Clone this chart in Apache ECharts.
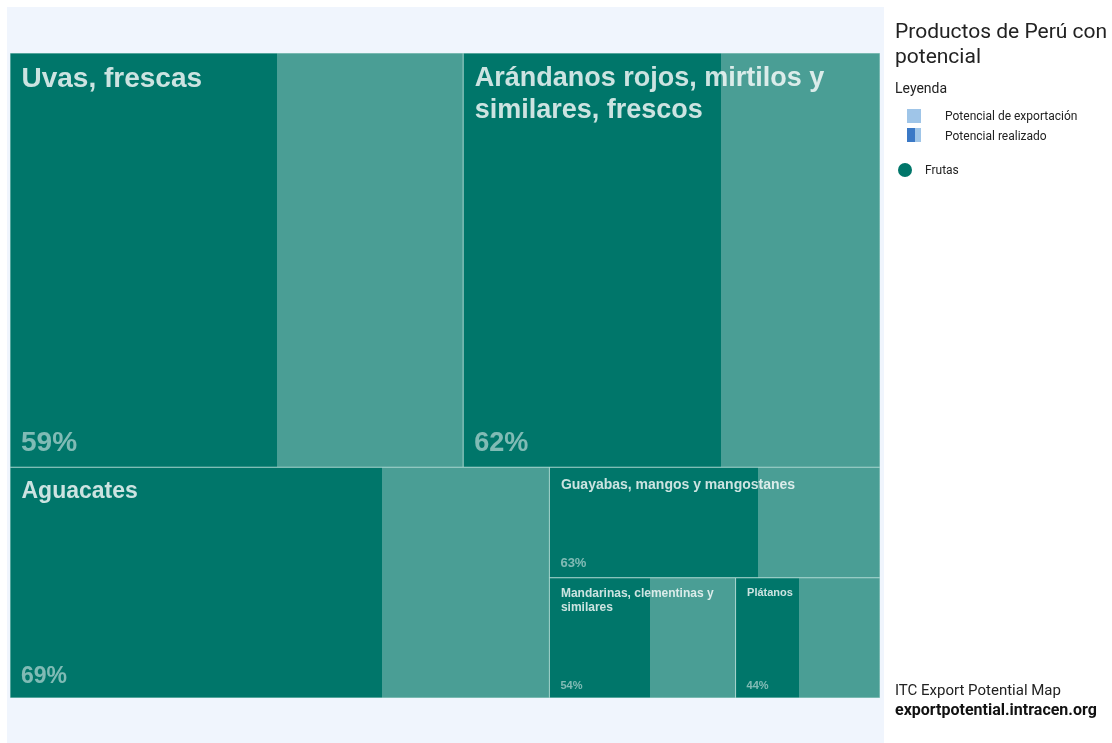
<!DOCTYPE html>
<html>
<head>
<meta charset="utf-8">
<title>Productos de Perú con potencial</title>
<script src="https://cdn.jsdelivr.net/npm/echarts@6/dist/echarts.min.js"></script>
<style>
  html, body { margin: 0; padding: 0; background: #fff; }
  #chart { width: 1112px; height: 743px; }
</style>
</head>
<body>
<div id="chart"></div>
<script>
// products (all in "Frutas"), export potential (relative size) and realized share in %
var products = [
  'Uvas, frescas',
  'Arándanos rojos, mirtilos y similares, frescos',
  'Aguacates',
  'Guayabas, mangos y mangostanes',
  'Mandarinas, clementinas y similares',
  'Plátanos'
]
var potential = [187, 172, 124, 36.4, 22.3, 17.3]
var realized = [59, 62, 69, 63, 54, 44]

// how the tiles nest (indexes into products)
var topRow = [0, 1]
var bigBottom = [2]
var midBottom = [3]
var smallPair = [4, 5]

var DARK = '#00766a'
var LIGHT = '#4a9e95'
var LINE = '#a9d5ce'

function sizeFor(v) {
  if (v > 180) return { name: 28, pct: 28, pad: [9, 11, 9, 11] }
  if (v > 150) return { name: 27, pct: 27, pad: [9, 11, 9, 11] }
  if (v > 100) return { name: 23, pct: 23, pad: [10, 11, 9, 11] }
  if (v > 30) return { name: 14, pct: 13, pad: [9, 11, 7, 11] }
  if (v > 20) return { name: 12, pct: 11, pad: [8, 2, 6, 11] }
  return { name: 11, pct: 11, pad: [8, 2, 6, 11] }
}

// long names break before "similares", like the original labels
function nameLabel(p) {
  return p.name.replace(' y similares', ' y\nsimilares')
}

// mode 'tile' draws the split tile with the product name, mode 'pct' only puts the % on top
function leaf(i, mode) {
  var s = sizeFor(potential[i])
  var r = realized[i] / 100
  var item = { name: products[i], value: potential[i] }
  if (mode === 'tile') {
    item.itemStyle = {
      borderWidth: 0.5,
      borderColor: LINE,
      color: {
        type: 'linear', x: 0, y: 0, x2: 1, y2: 0,
        colorStops: [
          { offset: 0, color: DARK },
          { offset: r, color: DARK },
          { offset: r, color: LIGHT },
          { offset: 1, color: LIGHT }
        ]
      }
    }
    item.label = {
      show: true,
      position: 'insideTopLeft',
      distance: 0,
      padding: s.pad,
      overflow: 'none',
      formatter: nameLabel,
      fontFamily: 'Liberation Sans',
      fontWeight: 'bold',
      fontSize: s.name,
      lineHeight: Math.round(s.name * 1.18),
      color: 'rgba(255,255,255,0.8)'
    }
  } else {
    item.itemStyle = { color: 'rgba(0,0,0,0)', borderWidth: 0, borderColor: 'rgba(0,0,0,0)' }
    item.label = {
      show: true,
      position: 'insideBottomLeft',
      distance: 0,
      padding: s.pad,
      overflow: 'none',
      formatter: realized[i] + '%',
      fontFamily: 'Liberation Sans',
      fontWeight: 'bold',
      fontSize: s.pct,
      lineHeight: s.pct + 2,
      color: 'rgba(255,255,255,0.5)'
    }
  }
  return item
}

function buildTree(mode) {
  var f = function (i) { return leaf(i, mode) }
  return [
    { name: 'top', children: topRow.map(f) },
    { name: 'bottom', children: bigBottom.map(f).concat([
      { name: 'right', children: midBottom.map(f).concat([
        { name: 'small', children: smallPair.map(f) }
      ]) }
    ]) }
  ]
}

function treemapSeries(mode) {
  return {
    type: 'treemap',
    left: 10,
    top: 53,
    width: 870,
    height: 645,
    sort: false,
    squareRatio: 2,
    roam: false,
    nodeClick: false,
    silent: mode === 'pct',
    drillDownIcon: '',
    breadcrumb: { show: false },
    emphasis: { disabled: true },
    upperLabel: { show: false },
    itemStyle: {
      borderWidth: 0,
      gapWidth: 0,
      borderColor: mode === 'tile' ? LINE : 'rgba(0,0,0,0)'
    },
    data: buildTree(mode)
  }
}

var chart = echarts.init(document.getElementById('chart'))
chart.setOption({
  animation: false,
  tooltip: { show: false },
  graphic: [
    { type: 'rect', z: -10, shape: { x: 7, y: 7, width: 877, height: 736 }, style: { fill: '#f0f5fd' } },
    { type: 'text', x: 895, y: 20, style: { text: 'Productos de Perú con\npotencial', font: '21px Roboto', lineHeight: 25, fill: '#222' } },
    { type: 'text', x: 895, y: 89, style: { text: 'Leyenda', font: '14px Roboto', fill: '#222', verticalAlign: 'middle' } },
    { type: 'rect', shape: { x: 907, y: 109, width: 14, height: 14 }, style: { fill: '#9fc5e8' } },
    { type: 'text', x: 945, y: 117, style: { text: 'Potencial de exportación', font: '12px Roboto', fill: '#222', verticalAlign: 'middle' } },
    { type: 'rect', shape: { x: 907, y: 128, width: 14, height: 14 }, style: { fill: '#9fc5e8' } },
    { type: 'rect', shape: { x: 907, y: 128, width: 8, height: 14 }, style: { fill: '#3b79c6' } },
    { type: 'text', x: 945, y: 137, style: { text: 'Potencial realizado', font: '12px Roboto', fill: '#222', verticalAlign: 'middle' } },
    { type: 'circle', shape: { cx: 905, cy: 170, r: 7 }, style: { fill: DARK } },
    { type: 'text', x: 925, y: 171, style: { text: 'Frutas', font: '12px Roboto', fill: '#222', verticalAlign: 'middle' } },
    { type: 'text', x: 895, y: 691, style: { text: 'ITC Export Potential Map', font: '15px Roboto', fill: '#222', verticalAlign: 'middle' } },
    { type: 'text', x: 895, y: 711, style: { text: 'exportpotential.intracen.org', font: 'bold 16px Roboto', fill: '#111', verticalAlign: 'middle' } }
  ],
  series: [treemapSeries('tile'), treemapSeries('pct')]
})
</script>
</body>
</html>
